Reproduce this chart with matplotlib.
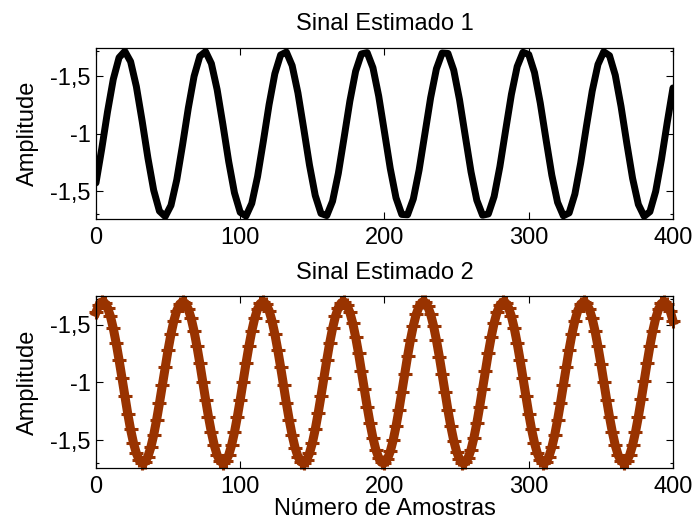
import numpy as np
import matplotlib
matplotlib.use("Agg")
import matplotlib.pyplot as plt

# DATA
# signal 1: one value every 4 samples
amostras1 = np.arange(0, 401, 4)
sinal1 = [0.574, 0.871, 1.193, 1.476, 1.664, 1.719, 1.629, 1.412, 1.113, 0.791,
          0.511, 0.329, 0.282, 0.379, 0.601, 0.903, 1.224, 1.501, 1.676, 1.716,
          1.612, 1.385, 1.081, 0.760, 0.488, 0.318, 0.286, 0.396, 0.629, 0.935,
          1.255, 1.524, 1.687, 1.712, 1.594, 1.357, 1.048, 0.730, 0.465, 0.308,
          0.290, 0.415, 0.657, 0.968, 1.285, 1.545, 1.696, 1.707, 1.576, 1.329,
          1.016, 0.700, 0.444, 0.300, 0.297, 0.435, 0.686, 1.000, 1.315, 1.566,
          1.704, 1.700, 1.555, 1.299, 0.983, 0.670, 0.424, 0.293, 0.304, 0.455,
          0.716, 1.033, 1.344, 1.586, 1.710, 1.691, 1.534, 1.269, 0.951, 0.642,
          0.405, 0.288, 0.313, 0.477, 0.746, 1.066, 1.372, 1.604, 1.715, 1.681,
          1.511, 1.239, 0.918, 0.614, 0.387, 0.284, 0.324, 0.500, 0.777, 1.098,
          1.400]

# signal 2: one value every 2 samples
amostras2 = np.arange(0, 401, 2)
sinal2 = [1.608, 1.670, 1.698, 1.691, 1.649, 1.574, 1.469, 1.341, 1.195, 1.040,
          0.882, 0.730, 0.592, 0.475, 0.385, 0.326, 0.301, 0.311, 0.357, 0.436,
          0.543, 0.673, 0.820, 0.976, 1.134, 1.284, 1.420, 1.535, 1.623, 1.679,
          1.700, 1.686, 1.636, 1.555, 1.445, 1.313, 1.165, 1.008, 0.851, 0.701,
          0.567, 0.455, 0.370, 0.318, 0.300, 0.318, 0.370, 0.455, 0.567, 0.702,
          0.851, 1.008, 1.165, 1.313, 1.445, 1.555, 1.637, 1.686, 1.700, 1.678,
          1.623, 1.535, 1.420, 1.284, 1.133, 0.976, 0.820, 0.673, 0.542, 0.435,
          0.357, 0.311, 0.301, 0.326, 0.385, 0.475, 0.593, 0.731, 0.882, 1.040,
          1.195, 1.341, 1.469, 1.574, 1.649, 1.691, 1.698, 1.670, 1.607, 1.514,
          1.394, 1.255, 1.102, 0.944, 0.789, 0.645, 0.519, 0.417, 0.345, 0.306,
          0.303, 0.335, 0.401, 0.497, 0.619, 0.760, 0.914, 1.071, 1.226, 1.369,
          1.492, 1.591, 1.660, 1.696, 1.696, 1.660, 1.591, 1.492, 1.368, 1.225,
          1.071, 0.913, 0.759, 0.618, 0.496, 0.400, 0.335, 0.303, 0.307, 0.345,
          0.418, 0.520, 0.646, 0.790, 0.945, 1.103, 1.256, 1.395, 1.515, 1.608,
          1.670, 1.698, 1.691, 1.649, 1.573, 1.469, 1.340, 1.195, 1.039, 0.881,
          0.730, 0.592, 0.475, 0.384, 0.325, 0.301, 0.312, 0.357, 0.436, 0.543,
          0.674, 0.821, 0.977, 1.134, 1.285, 1.421, 1.536, 1.623, 1.679, 1.700,
          1.685, 1.636, 1.555, 1.445, 1.312, 1.164, 1.007, 0.850, 0.701, 0.567,
          0.454, 0.370, 0.318, 0.300, 0.318, 0.371, 0.455, 0.568, 0.702, 0.852,
          1.009, 1.165, 1.314, 1.446, 1.555, 1.637, 1.686, 1.700, 1.678, 1.622,
          1.535]

x_ticks = [0, 100, 200, 300, 400]
y_ticks = [0.5, 1.0, 1.5]
y_tick_labels = ["-1,5", "-1", "-1,5"]
y_minor = [0.3, 1.72]

titulos = ["Sinal Estimado 1", "Sinal Estimado 2"]

plt.rcParams['font.family'] = ['Liberation Sans', 'DejaVu Sans']
plt.rcParams['font.size'] = 17

fig = plt.figure(figsize=(6.93, 5.24), dpi=100)
ax1 = fig.add_axes([0.1385, 0.582, 0.8326, 0.327])
ax2 = fig.add_axes([0.1385, 0.1074, 0.8326, 0.3277])

# top panel: thick black line
ax1.plot(amostras1, sinal1, color="black", linewidth=5.0,
         solid_joinstyle="round", solid_capstyle="round")

# bottom panel: brown line with + markers
ax2.plot(amostras2, sinal2, color="#993300", linewidth=6.5, marker="+",
         markersize=10, markeredgewidth=2.2, clip_on=False,
         solid_joinstyle="round")

for ax, titulo, tpad in zip([ax1, ax2], titulos, [13, 12]):
    ax.set_xlim(0, 400)
    ax.set_ylim(0.26, 1.75)
    ax.set_xticks(x_ticks)
    ax.set_yticks(y_ticks)
    ax.set_yticklabels(y_tick_labels)
    ax.set_yticks(y_minor, minor=True)
    ax.tick_params(which="major", direction="in", length=5, width=0.8,
                   top=True, right=True)
    ax.tick_params(axis="x", pad=6)
    ax.tick_params(axis="y", pad=4)
    ax.tick_params(which="minor", direction="in", length=2.5, width=0.8,
                   left=True, right=True)
    ax.set_ylabel("Amplitude", labelpad=8)
    ax.set_title(titulo, fontsize=17, pad=tpad)
    for s in ax.spines.values():
        s.set_linewidth(0.9)

ax2.set_xlabel("Número de Amostras", labelpad=0)

fig.savefig("out.png", dpi=100)
